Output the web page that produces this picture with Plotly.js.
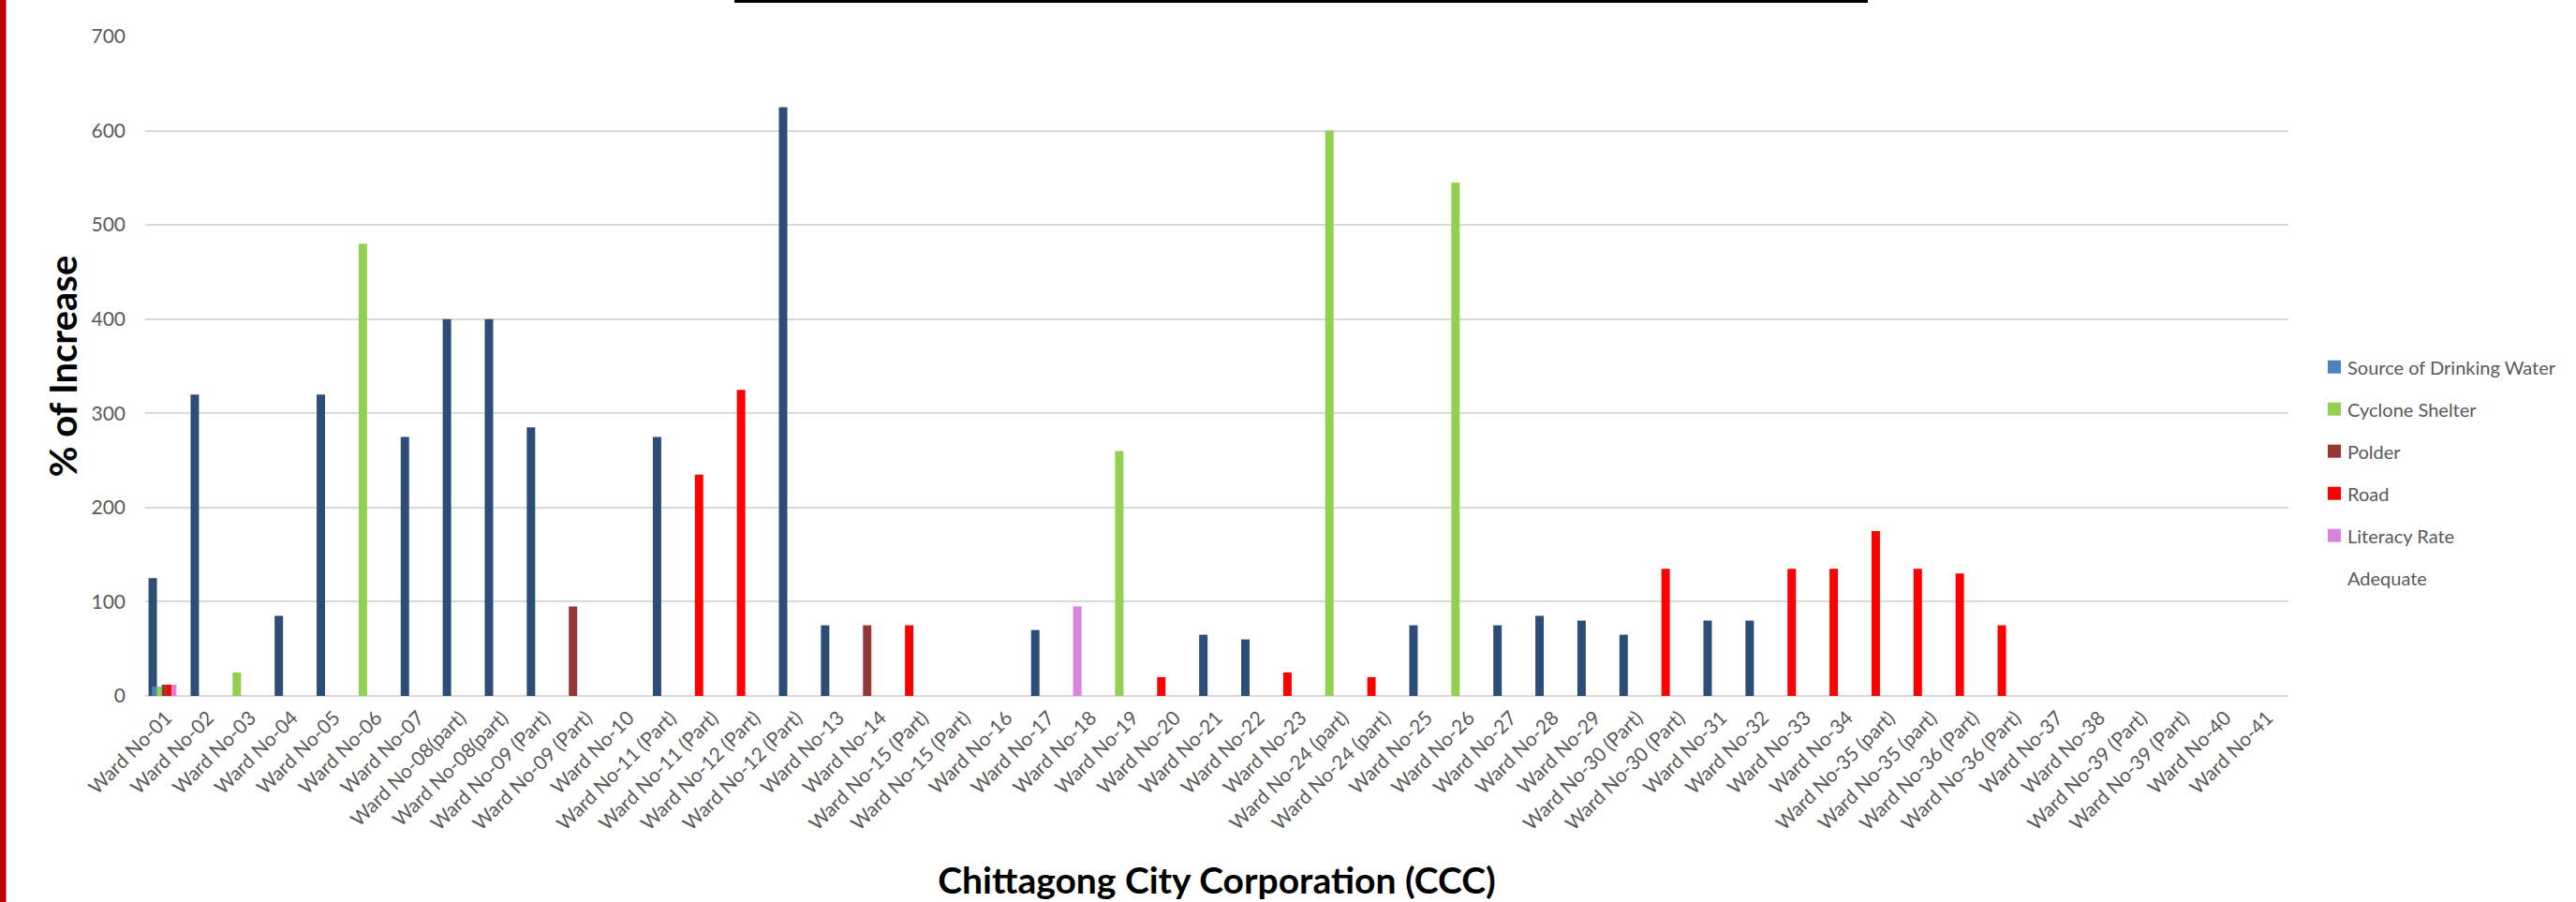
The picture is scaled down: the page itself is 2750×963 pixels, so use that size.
<!DOCTYPE html>
<html>
<head>
<meta charset="utf-8">
<script src="https://cdn.plot.ly/plotly-3.0.1.min.js"></script>
<style>
  html, body { margin: 0; padding: 0; background: #ffffff; }
  #chart { width: 2750px; height: 963px; }
</style>
</head>
<body>
<div id="chart"></div>
<script>
// ---------------- DATA ----------------
const wardLabels = [
  "Ward No-01", "Ward No-02", "Ward No-03", "Ward No-04", "Ward No-05", "Ward No-06", "Ward No-07",
  "Ward No-08(part)", "Ward No-08(part)", "Ward No-09 (Part)", "Ward No-09 (Part)", "Ward No-10",
  "Ward No-11 (Part)", "Ward No-11 (Part)", "Ward No-12 (Part)", "Ward No-12 (Part)", "Ward No-13",
  "Ward No-14", "Ward No-15 (Part)", "Ward No-15 (Part)", "Ward No-16", "Ward No-17", "Ward No-18",
  "Ward No-19", "Ward No-20", "Ward No-21", "Ward No-22", "Ward No-23", "Ward No-24 (part)",
  "Ward No-24 (part)", "Ward No-25", "Ward No-26", "Ward No-27", "Ward No-28", "Ward No-29",
  "Ward No-30 (Part)", "Ward No-30 (Part)", "Ward No-31", "Ward No-32", "Ward No-33", "Ward No-34",
  "Ward No-35 (part)", "Ward No-35 (part)", "Ward No-36 (Part)", "Ward No-36 (Part)", "Ward No-37",
  "Ward No-38", "Ward No-39 (Part)", "Ward No-39 (Part)", "Ward No-40", "Ward No-41"
];

// "Adequate" series: % of increase per ward
const adequateValues = [
  125, 320, 25, 85, 320, 480, 275,
  400, 400, 285, 95, null,
  275, 235, 325, 625, 75,
  75, 75, null, null, 70, 95,
  260, 20, 65, 60, 25, 600,
  20, 75, 545, 75, 85, 80,
  65, 135, 80, 80, 135, 135,
  175, 135, 130, 75, null,
  null, null, null, null, null
];

// indicator each "Adequate" bar belongs to
const adequateIndicator = [
  "Water", "Water", "Cyclone", "Water", "Water", "Cyclone", "Water",
  "Water", "Water", "Water", "Polder", "Water",
  "Water", "Road", "Road", "Water", "Water",
  "Polder", "Road", "Road", "Water", "Water", "Literacy",
  "Cyclone", "Road", "Water", "Water", "Road", "Cyclone",
  "Road", "Water", "Cyclone", "Water", "Water", "Water",
  "Water", "Road", "Water", "Water", "Road", "Road",
  "Road", "Road", "Road", "Road", "Water",
  "Water", "Water", "Water", "Water", "Water"
];

// small series (only present at Ward No-01)
const seriesWard = ["Ward No-01"];
const drinkingWaterValues = [10];
const cycloneShelterValues = [10];
const polderValues = [12];
const roadValues = [12];
const literacyRateValues = [12];

const seriesNames = ["Source of Drinking Water", "Cyclone Shelter", "Polder", "Road", "Literacy Rate"];
const mainSeriesName = "Adequate";

// ---------------- STYLE ----------------
const indicatorColor = {
  Water: "#2C4D76",
  Cyclone: "#92D050",
  Polder: "#953735",
  Road: "#FF0000",
  Literacy: "#D983DF"
};
const seriesColors = ["#4F81BD", "#92D050", "#953735", "#FF0000", "#D983DF"];

const FONT = 'Lato, "Open Sans", "Liberation Sans", sans-serif';
const GRAY = "#595959";

const W = 2750, H = 963;
const M = { l: 155, r: 307, t: 39, b: 220 };
const plotW = W - M.l - M.r;
const plotH = H - M.t - M.b;
const pxX = px => (px - M.l) / plotW;
const pxY = py => (H - M.b - py) / plotH;

// ---------------- TRACES ----------------
const xIndex = wardLabels.map((_, i) => i);
const seriesX = seriesWard.map(w => wardLabels.indexOf(w));

const traces = [];
traces.push({
  type: "bar",
  name: mainSeriesName,
  x: xIndex,
  y: adequateValues,
  marker: { color: adequateIndicator.map(k => indicatorColor[k]), line: { width: 0 } },
  offset: -0.42,
  width: 0.2,
  hoverinfo: "x+y"
});

const smallVals = [drinkingWaterValues, cycloneShelterValues, polderValues, roadValues, literacyRateValues];
const smallWidth = 0.116;
smallVals.forEach((vals, i) => {
  traces.push({
    type: "bar",
    name: seriesNames[i],
    x: seriesX,
    y: vals,
    marker: { color: seriesColors[i], line: { width: 0 } },
    offset: -0.337 + i * smallWidth,
    width: smallWidth
  });
});

// ---------------- LEGEND (drawn as shapes + text) ----------------
const legendNames = seriesNames.concat([mainSeriesName]);
const legendColors = seriesColors.concat([null]);
const LEG_SW_X = 2485, LEG_SW = 14, LEG_TXT_X = 2505, LEG_Y0 = 391.7, LEG_DY = 45;

const legendShapes = [];
const legendAnn = [];
legendNames.forEach((nm, i) => {
  const cy = LEG_Y0 + i * LEG_DY;
  if (legendColors[i]) {
    legendShapes.push({
      type: "rect", xref: "paper", yref: "paper",
      x0: pxX(LEG_SW_X), x1: pxX(LEG_SW_X + LEG_SW),
      y0: pxY(cy + LEG_SW / 2), y1: pxY(cy - LEG_SW / 2),
      fillcolor: legendColors[i], line: { width: 0 }
    });
  }
  legendAnn.push({
    xref: "paper", yref: "paper",
    x: pxX(LEG_TXT_X), y: pxY(cy),
    xanchor: "left", yanchor: "middle",
    text: nm, showarrow: false, borderpad: 0,
    font: { family: FONT, size: 20, color: GRAY }
  });
});

const layout = {
  width: W,
  height: H,
  margin: M,
  paper_bgcolor: "#ffffff",
  plot_bgcolor: "#ffffff",
  barmode: "overlay",
  showlegend: false,
  font: { family: FONT, color: GRAY, size: 21 },
  xaxis: {
    type: "linear",
    range: [-0.5, wardLabels.length - 0.5],
    tickmode: "array",
    tickvals: xIndex,
    ticktext: wardLabels,
    tickangle: -45,
    tickfont: { family: FONT, size: 21, color: GRAY },
    showgrid: false,
    zeroline: false,
    showline: false,
    ticks: "",
    ticklabelstandoff: 6,
    fixedrange: true,
    title: {
      text: "Chittagong City Corporation (CCC)",
      font: { family: FONT, size: 39, color: "#000000", weight: "bold" },
      standoff: 37
    }
  },
  yaxis: {
    range: [0, 700],
    dtick: 100,
    tick0: 0,
    showgrid: true,
    gridcolor: "#D9D9D9",
    gridwidth: 2,
    zeroline: true,
    zerolinecolor: "#D9D9D9",
    zerolinewidth: 2,
    showline: false,
    ticks: "",
    ticklabelstandoff: 20,
    tickfont: { family: FONT, size: 21, color: GRAY },
    fixedrange: true,
    title: {
      text: "% of Increase",
      font: { family: FONT, size: 40, color: "#000000", weight: "bold" },
      standoff: 2
    }
  },
  annotations: legendAnn,
  shapes: [
    {
      type: "line", xref: "paper", yref: "paper",
      x0: pxX(784), x1: pxX(1994), y0: pxY(1.5), y1: pxY(1.5),
      line: { color: "#000000", width: 3 }
    },
    {
      type: "rect", xref: "paper", yref: "paper",
      x0: pxX(0), x1: pxX(6.5), y0: pxY(H), y1: pxY(0),
      fillcolor: "#C00000", line: { width: 0 }
    }
  ].concat(legendShapes)
};

Plotly.newPlot("chart", traces, layout, { displayModeBar: false, staticPlot: true });
</script>
</body>
</html>
